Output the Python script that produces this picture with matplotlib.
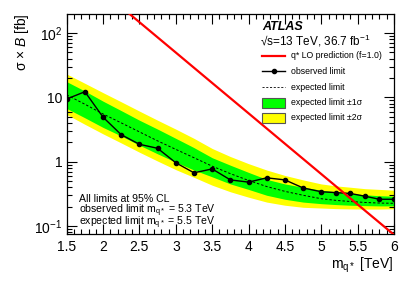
import numpy as np
import matplotlib
matplotlib.use("Agg")
import matplotlib.pyplot as plt
from matplotlib.lines import Line2D
from matplotlib.patches import Rectangle
from matplotlib.ticker import FixedLocator, FuncFormatter, MultipleLocator

plt.rcParams["font.family"] = ["Liberation Sans", "DejaVu Sans"]
plt.rcParams["mathtext.fontset"] = "custom"
plt.rcParams["mathtext.rm"] = "Liberation Sans"
plt.rcParams["mathtext.it"] = "Liberation Sans:italic"

# ── data ─────────────────────────────────────────────────────────────────────
mass = [1.5, 1.75, 2.0, 2.25, 2.5, 2.75, 3.0, 3.25, 3.5, 3.75,
        4.0, 4.25, 4.5, 4.75, 5.0, 5.2, 5.4, 5.6, 5.8, 6.0]
observed = [9.4, 12.2, 4.9, 2.62, 1.86, 1.61, 0.96, 0.67, 0.77, 0.52,
            0.48, 0.56, 0.52, 0.39, 0.34, 0.33, 0.32, 0.29, 0.26, 0.26]
expected = [10.9, 7.8, 5.5, 4.0, 2.9, 2.1, 1.55, 1.15, 0.85, 0.65,
            0.51, 0.41, 0.345, 0.30, 0.265, 0.25, 0.24, 0.232, 0.227, 0.225]
exp_hi1 = [17.5, 12.5, 8.7, 6.2, 4.4, 3.2, 2.3, 1.65, 1.15, 0.88,
           0.68, 0.53, 0.45, 0.40, 0.36, 0.34, 0.32, 0.305, 0.295, 0.29]
exp_lo1 = [6.7, 4.8, 3.4, 2.5, 1.8, 1.32, 0.98, 0.74, 0.58, 0.45,
           0.37, 0.30, 0.26, 0.235, 0.222, 0.215, 0.21, 0.207, 0.205, 0.205]
exp_hi2 = [23, 16.5, 11.8, 8.5, 6.1, 4.4, 3.2, 2.3, 1.6, 1.2,
           0.93, 0.74, 0.61, 0.52, 0.45, 0.42, 0.40, 0.38, 0.37, 0.36]
exp_lo2 = [5.4, 3.8, 2.7, 1.95, 1.4, 1.02, 0.75, 0.57, 0.43, 0.34,
           0.28, 0.235, 0.21, 0.195, 0.19, 0.186, 0.184, 0.183, 0.183, 0.185]

theory_mass = [2.0, 2.5, 3.0, 3.5, 4.0, 4.5, 5.0, 5.5, 6.0]
theory_xsec = [435, 147, 49.6, 16.7, 5.64, 1.90, 0.641, 0.216, 0.073]

GREEN = "#00ff00"
YELLOW = "#ffff00"
RED = "#ff0000"

W, H = 415, 281
fig = plt.figure(figsize=(W / 100, H / 100), dpi=100, facecolor="white")
ax = fig.add_axes([66.7 / W, 1 - 234 / H, (394 - 66.7) / W, (234 - 14) / H])

ax.fill_between(mass, exp_lo2, exp_hi2, color=YELLOW, lw=0, zorder=1)
ax.fill_between(mass, exp_lo1, exp_hi1, color=GREEN, lw=0, zorder=2)
ax.plot(mass, expected, color="black", lw=0.7, ls=(0, (2.5, 2)), zorder=3)
ax.plot(mass, observed, color="black", lw=1.0, marker="o", ms=3.0, zorder=4)
ax.plot(theory_mass, theory_xsec, color=RED, lw=1.6, zorder=5)

ax.set_yscale("log")
ax.set_xlim(1.5, 6.0)
ax.set_ylim(0.075, 197)

# ROOT-like ticks on all four sides
ax.xaxis.set_major_locator(MultipleLocator(0.5))
ax.xaxis.set_minor_locator(MultipleLocator(0.1))
ax.yaxis.set_major_locator(FixedLocator([0.1, 1, 10, 100]))
minors = [m * 10.0 ** e for e in range(-2, 3) for m in range(2, 10)]
ax.yaxis.set_minor_locator(FixedLocator(minors))
ax.yaxis.set_minor_formatter(FuncFormatter(lambda v, p: ""))

def ylab(v, pos):
    labels = {0.1: r"$10^{-1}$", 1: "1", 10: "10", 100: r"$10^{2}$"}
    for k, s in labels.items():
        if abs(v - k) < 1e-6 * k:
            return s
    return ""

ax.yaxis.set_major_formatter(FuncFormatter(ylab))
ax.xaxis.set_major_formatter(FuncFormatter(lambda v, p: f"{v:g}"))
ax.tick_params(which="both", direction="in", top=True, right=True,
               labelsize=10, width=0.8, pad=3)
ax.tick_params(which="major", length=7)
ax.tick_params(which="minor", length=3.5)
ax.tick_params(axis="x", pad=4)
for sp in ax.spines.values():
    sp.set_linewidth(0.9)

# axis titles, ROOT style (aligned to the axis ends)
fig.text(393 / W, 1 - 265 / H, r"m$_{\mathregular{q*}}$ [TeV]", fontsize=10,
         ha="right", va="center")
fig.text(22 / W, 1 - 13 / H, r"σ × $B$ [fb]", fontsize=10,
         rotation=90, ha="center", va="top")

# ATLAS label
fig.text(262 / W, 1 - 27 / H, "ATLAS", fontsize=9, fontweight="bold",
         fontstyle="italic", ha="left", va="center")
fig.text(260 / W, 1 - 41 / H, r"√s=13 TeV, 36.7 fb$^{-1}$",
         fontsize=8.5, ha="left", va="center")

# legend, drawn by hand
leg_y = [55.7, 71, 87, 102.7, 118]
leg_txt = ["q* LO prediction (f=1.0)", "observed limit", "expected limit",
           "expected limit ±1σ", "expected limit ±2σ"]
x0, x1, xt = 262, 285, 291
for yy, txt in zip(leg_y, leg_txt):
    fig.text(xt / W, 1 - yy / H, txt, fontsize=6.3, ha="left", va="center")
fig.add_artist(Line2D([x0 / W, x1 / W], [1 - leg_y[0] / H] * 2, color=RED, lw=1.6))
fig.add_artist(Line2D([x0 / W, x1 / W], [1 - leg_y[1] / H] * 2, color="black", lw=1.0))
fig.add_artist(Line2D([(x0 + x1) / 2 / W], [1 - leg_y[1] / H], color="black",
                      marker="o", ms=3, lw=0))
fig.add_artist(Line2D([x0 / W, x1 / W], [1 - leg_y[2] / H] * 2, color="black",
                      lw=0.6, ls=(0, (2.5, 2))))
for yy, col in zip(leg_y[3:], [GREEN, YELLOW]):
    fig.add_artist(Rectangle((x0 / W, 1 - (yy + 5) / H), (x1 - x0) / W, 10 / H,
                             transform=fig.transFigure, fc=col, ec="#555555", lw=0.8))

# limit summary: first line alone, the two mass limits as one block
fig.text(79 / W, 1 - 202.3 / H, "All limits at 95% CL", fontsize=7.6,
         ha="left", va="baseline")
limits = "\n".join([r"observed limit m$_{\mathregular{q*}}$ = 5.3 TeV",
                    r"expected limit m$_{\mathregular{q*}}$ = 5.5 TeV"])
fig.text(79 / W, 1 - 225.3 / H, limits, fontsize=7.6, ha="left", va="baseline",
         linespacing=0.6)

fig.savefig("out.png", dpi=100, facecolor="white")
